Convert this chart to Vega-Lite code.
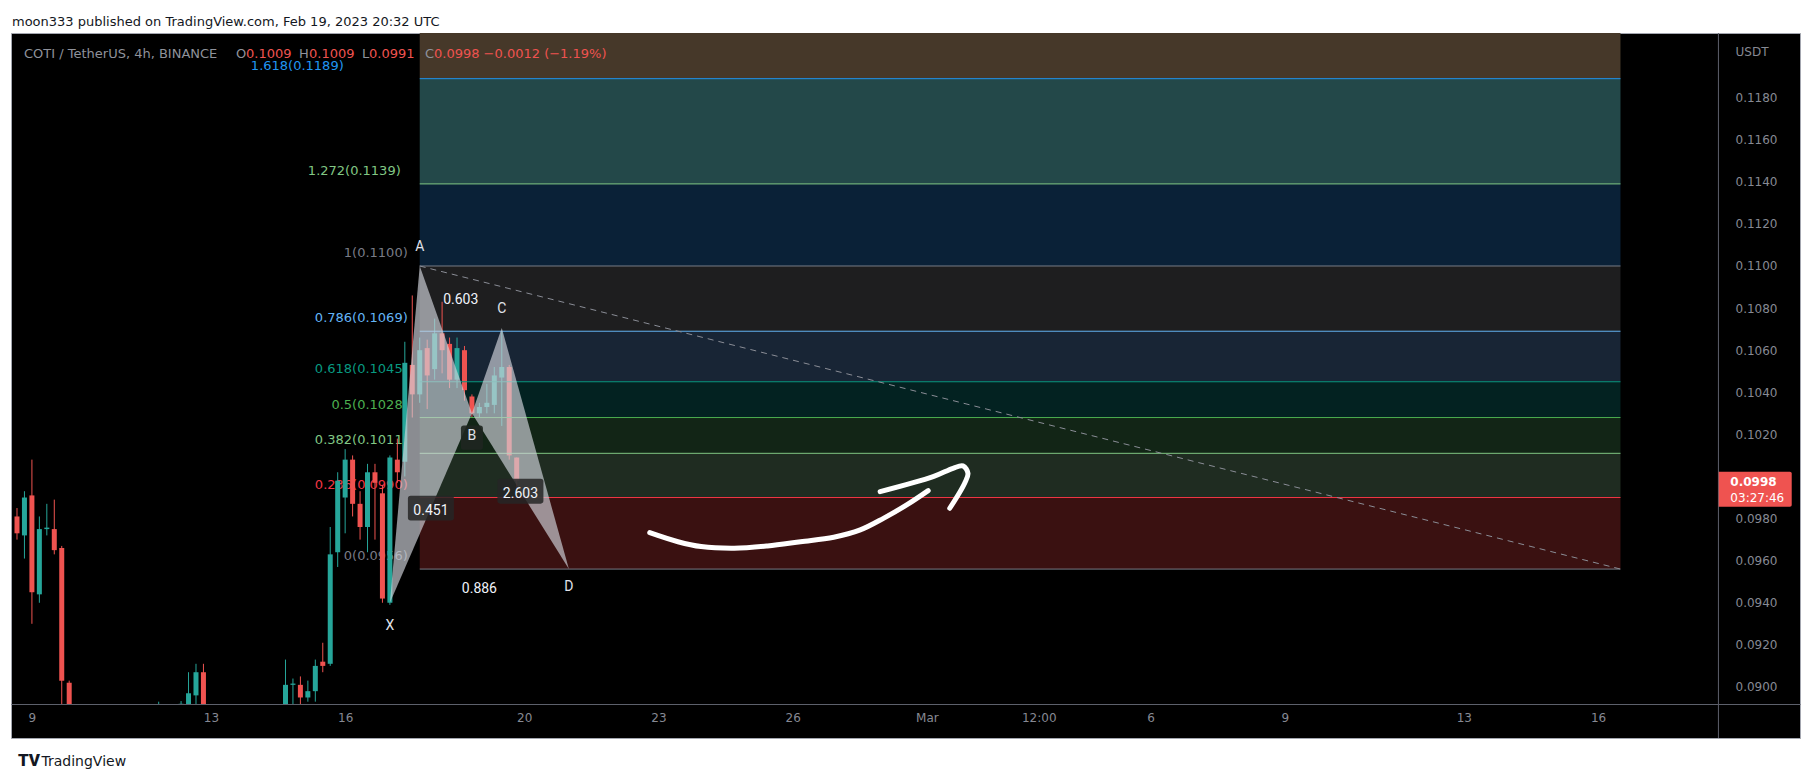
{
  "$schema": "https://vega.github.io/schema/vega-lite/v6.json",
  "width": 1789,
  "height": 705,
  "autosize": {"type": "none"},
  "padding": {"left": 11, "top": 33, "right": 13, "bottom": 45},
  "background": "#ffffff",
  "title": {"text": "moon333 published on TradingView.com, Feb 19, 2023 20:32 UTC", "anchor": "start", "frame": "group", "offset": 4, "fontSize": 13, "fontWeight": "normal", "font": "DejaVu Sans", "color": "#131722", "dx": 1},
  "config": {"view": {"fill": "#000000", "stroke": "#a3a6af", "strokeWidth": 1}, "font": "DejaVu Sans"},
  "datasets": {
    "candles": [
      {"t": "2023-02-08T16:00Z", "o": 0.0981, "h": 0.0985, "l": 0.0970, "c": 0.0973},
      {"t": "2023-02-08T20:00Z", "o": 0.0972, "h": 0.0993, "l": 0.0961, "c": 0.0990},
      {"t": "2023-02-09T00:00Z", "o": 0.0991, "h": 0.1008, "l": 0.0930, "c": 0.0945},
      {"t": "2023-02-09T04:00Z", "o": 0.0944, "h": 0.0981, "l": 0.0940, "c": 0.0975},
      {"t": "2023-02-09T08:00Z", "o": 0.0975, "h": 0.0987, "l": 0.0972, "c": 0.09757},
      {"t": "2023-02-09T12:00Z", "o": 0.0975, "h": 0.0989, "l": 0.0963, "c": 0.0965},
      {"t": "2023-02-09T16:00Z", "o": 0.0966, "h": 0.0967, "l": 0.0880, "c": 0.0903},
      {"t": "2023-02-09T20:00Z", "o": 0.0902, "h": 0.0903, "l": 0.0860, "c": 0.0870},
      {"t": "2023-02-11T20:00Z", "o": 0.0880, "h": 0.0893, "l": 0.0875, "c": 0.0885},
      {"t": "2023-02-12T08:00Z", "o": 0.0885, "h": 0.08933, "l": 0.0880, "c": 0.0892},
      {"t": "2023-02-12T12:00Z", "o": 0.0886, "h": 0.0907, "l": 0.0880, "c": 0.0897},
      {"t": "2023-02-12T16:00Z", "o": 0.0896, "h": 0.0911, "l": 0.0888, "c": 0.0907},
      {"t": "2023-02-12T20:00Z", "o": 0.0907, "h": 0.0911, "l": 0.0878, "c": 0.0885},
      {"t": "2023-02-14T16:00Z", "o": 0.0887, "h": 0.0913, "l": 0.0880, "c": 0.0901},
      {"t": "2023-02-14T20:00Z", "o": 0.0901, "h": 0.0904, "l": 0.0890, "c": 0.09016},
      {"t": "2023-02-15T00:00Z", "o": 0.0901, "h": 0.0905, "l": 0.0890, "c": 0.0895},
      {"t": "2023-02-15T04:00Z", "o": 0.0895, "h": 0.0903, "l": 0.0893, "c": 0.0898},
      {"t": "2023-02-15T08:00Z", "o": 0.0898, "h": 0.0913, "l": 0.0893, "c": 0.0910},
      {"t": "2023-02-15T12:00Z", "o": 0.0912, "h": 0.0921, "l": 0.0907, "c": 0.0910},
      {"t": "2023-02-15T16:00Z", "o": 0.0911, "h": 0.0976, "l": 0.0910, "c": 0.0963},
      {"t": "2023-02-15T20:00Z", "o": 0.0964, "h": 0.1002, "l": 0.0957, "c": 0.0998},
      {"t": "2023-02-16T00:00Z", "o": 0.0990, "h": 0.1013, "l": 0.0973, "c": 0.1008},
      {"t": "2023-02-16T04:00Z", "o": 0.1008, "h": 0.1010, "l": 0.0981, "c": 0.0987},
      {"t": "2023-02-16T08:00Z", "o": 0.0987, "h": 0.0993, "l": 0.0970, "c": 0.0976},
      {"t": "2023-02-16T12:00Z", "o": 0.0976, "h": 0.1006, "l": 0.0964, "c": 0.1002},
      {"t": "2023-02-16T16:00Z", "o": 0.1002, "h": 0.1006, "l": 0.0970, "c": 0.0997},
      {"t": "2023-02-16T20:00Z", "o": 0.0992, "h": 0.0996, "l": 0.0940, "c": 0.0942},
      {"t": "2023-02-17T00:00Z", "o": 0.0940, "h": 0.1010, "l": 0.0939, "c": 0.1009},
      {"t": "2023-02-17T04:00Z", "o": 0.1008, "h": 0.1018, "l": 0.0997, "c": 0.1002},
      {"t": "2023-02-17T08:00Z", "o": 0.1007, "h": 0.1064, "l": 0.1000, "c": 0.1054},
      {"t": "2023-02-17T12:00Z", "o": 0.1053, "h": 0.1086, "l": 0.1028, "c": 0.1039},
      {"t": "2023-02-17T16:00Z", "o": 0.1039, "h": 0.1066, "l": 0.1035, "c": 0.1060},
      {"t": "2023-02-17T20:00Z", "o": 0.1061, "h": 0.1065, "l": 0.1032, "c": 0.1048},
      {"t": "2023-02-18T00:00Z", "o": 0.1051, "h": 0.1075, "l": 0.1046, "c": 0.1068},
      {"t": "2023-02-18T04:00Z", "o": 0.1068, "h": 0.1083, "l": 0.1049, "c": 0.1060},
      {"t": "2023-02-18T08:00Z", "o": 0.1063, "h": 0.1066, "l": 0.1042, "c": 0.1046},
      {"t": "2023-02-18T12:00Z", "o": 0.1046, "h": 0.1066, "l": 0.1042, "c": 0.1061},
      {"t": "2023-02-18T16:00Z", "o": 0.1060, "h": 0.1062, "l": 0.1036, "c": 0.1041},
      {"t": "2023-02-18T20:00Z", "o": 0.1038, "h": 0.1039, "l": 0.1028, "c": 0.1030},
      {"t": "2023-02-19T00:00Z", "o": 0.1030, "h": 0.1035, "l": 0.1028, "c": 0.1033},
      {"t": "2023-02-19T04:00Z", "o": 0.1033, "h": 0.1044, "l": 0.1030, "c": 0.1035},
      {"t": "2023-02-19T08:00Z", "o": 0.1034, "h": 0.1052, "l": 0.1030, "c": 0.1048},
      {"t": "2023-02-19T12:00Z", "o": 0.1047, "h": 0.1069, "l": 0.1024, "c": 0.1052},
      {"t": "2023-02-19T16:00Z", "o": 0.1052, "h": 0.1053, "l": 0.1008, "c": 0.1010},
      {"t": "2023-02-19T20:00Z", "o": 0.1009, "h": 0.1009, "l": 0.0991, "c": 0.0998}
    ],
    "fib": [
      {"level": "0", "price": 0.0956, "next": 0.0990, "label": "0(0.0956)", "from": "2023-02-17T16:00Z", "to": "2023-03-16T12:00Z"},
      {"level": "0.236", "price": 0.0990, "next": 0.1011, "label": "0.236(0.0990)", "from": "2023-02-17T16:00Z", "to": "2023-03-16T12:00Z"},
      {"level": "0.382", "price": 0.1011, "next": 0.1028, "label": "0.382(0.1011)", "from": "2023-02-17T16:00Z", "to": "2023-03-16T12:00Z"},
      {"level": "0.5", "price": 0.1028, "next": 0.1045, "label": "0.5(0.1028)", "from": "2023-02-17T16:00Z", "to": "2023-03-16T12:00Z"},
      {"level": "0.618", "price": 0.1045, "next": 0.1069, "label": "0.618(0.1045)", "from": "2023-02-17T16:00Z", "to": "2023-03-16T12:00Z"},
      {"level": "0.786", "price": 0.1069, "next": 0.1100, "label": "0.786(0.1069)", "from": "2023-02-17T16:00Z", "to": "2023-03-16T12:00Z"},
      {"level": "1", "price": 0.1100, "next": 0.1139, "label": "1(0.1100)", "from": "2023-02-17T16:00Z", "to": "2023-03-16T12:00Z"},
      {"level": "1.272", "price": 0.1139, "next": 0.1189, "label": "1.272(0.1139)", "from": "2023-02-17T16:00Z", "to": "2023-03-16T12:00Z"},
      {"level": "1.618", "price": 0.1189, "next": 0.1333, "label": "1.618(0.1189)", "from": "2023-02-17T16:00Z", "to": "2023-03-16T12:00Z"}
    ],
    "trend": [
      {"t": "2023-02-17T16:00Z", "p": 0.1100},
      {"t": "2023-03-16T12:00Z", "p": 0.0956}
    ],
    "tri": [
      {"shape": "XAB", "t": "2023-02-17T00:00Z", "top": 0.0940, "bottom": 0.0940},
      {"shape": "XAB", "t": "2023-02-17T16:00Z", "top": 0.1100, "bottom": 0.09727},
      {"shape": "XAB", "t": "2023-02-18T20:00Z", "top": 0.1030, "bottom": 0.1030},
      {"shape": "BCD", "t": "2023-02-18T20:00Z", "top": 0.1030, "bottom": 0.1030},
      {"shape": "BCD", "t": "2023-02-19T12:00Z", "top": 0.10705, "bottom": 0.10072},
      {"shape": "BCD", "t": "2023-02-21T00:00Z", "top": 0.0956, "bottom": 0.0956}
    ],
    "pts": [
      {"name": "X", "t": "2023-02-17T00:00Z", "p": 0.0940},
      {"name": "A", "t": "2023-02-17T16:00Z", "p": 0.1100},
      {"name": "B", "t": "2023-02-18T20:00Z", "p": 0.1030},
      {"name": "C", "t": "2023-02-19T12:00Z", "p": 0.10705},
      {"name": "D", "t": "2023-02-21T00:00Z", "p": 0.0956}
    ],
    "ratios": [
      {"label": "0.603", "t": "2023-02-18T14:00Z", "p": 0.108525},
      {"label": "0.451", "t": "2023-02-17T22:00Z", "p": 0.0985},
      {"label": "2.603", "t": "2023-02-19T22:00Z", "p": 0.0993},
      {"label": "0.886", "t": "2023-02-19T00:00Z", "p": 0.0948}
    ],
    "arrow": [
      {"part": "curve", "i": 1, "t": "2023-02-22T19:22Z", "p": 0.09733},
      {"part": "curve", "i": 2, "t": "2023-02-23T10:31Z", "p": 0.09690},
      {"part": "curve", "i": 3, "t": "2023-02-23T22:56Z", "p": 0.09667},
      {"part": "curve", "i": 4, "t": "2023-02-24T16:42Z", "p": 0.09659},
      {"part": "curve", "i": 5, "t": "2023-02-25T10:31Z", "p": 0.09670},
      {"part": "curve", "i": 6, "t": "2023-02-26T04:16Z", "p": 0.09690},
      {"part": "curve", "i": 7, "t": "2023-02-26T22:02Z", "p": 0.09711},
      {"part": "curve", "i": 8, "t": "2023-02-27T12:16Z", "p": 0.09746},
      {"part": "curve", "i": 9, "t": "2023-02-28T00:42Z", "p": 0.09801},
      {"part": "curve", "i": 10, "t": "2023-02-28T13:10Z", "p": 0.09865},
      {"part": "curve", "i": 11, "t": "2023-03-01T00:42Z", "p": 0.09933},
      {"part": "head", "i": 1, "t": "2023-02-27T22:56Z", "p": 0.09928},
      {"part": "head", "i": 2, "t": "2023-03-01T03:22Z", "p": 0.09999},
      {"part": "head", "i": 3, "t": "2023-03-01T14:01Z", "p": 0.10039},
      {"part": "head", "i": 4, "t": "2023-03-01T19:22Z", "p": 0.10050},
      {"part": "head", "i": 5, "t": "2023-03-01T22:02Z", "p": 0.10015},
      {"part": "head", "i": 6, "t": "2023-03-01T20:16Z", "p": 0.09968},
      {"part": "head", "i": 7, "t": "2023-03-01T12:16Z", "p": 0.09849}
    ]
  },
  "layer": [
    {
      "data": {"name": "fib"},
      "mark": {"type": "rect"},
      "encoding": {
        "x": {
          "field": "from", "type": "temporal",
          "scale": {"type": "utc", "nice": false, "domain": [{"year": 2023, "month": 2, "date": 8, "hours": 15, "minutes": 28, "utc": true}, {"year": 2023, "month": 3, "date": 20, "hours": 9, "minutes": 36, "utc": true}]},
          "axis": {
            "orient": "bottom", "offset": -34,
            "values": [
              {"year": 2023, "month": 2, "date": 9, "utc": true},
              {"year": 2023, "month": 2, "date": 13, "utc": true},
              {"year": 2023, "month": 2, "date": 16, "utc": true},
              {"year": 2023, "month": 2, "date": 20, "utc": true},
              {"year": 2023, "month": 2, "date": 23, "utc": true},
              {"year": 2023, "month": 2, "date": 26, "utc": true},
              {"year": 2023, "month": 3, "date": 1, "utc": true},
              {"year": 2023, "month": 3, "date": 3, "hours": 12, "utc": true},
              {"year": 2023, "month": 3, "date": 6, "utc": true},
              {"year": 2023, "month": 3, "date": 9, "utc": true},
              {"year": 2023, "month": 3, "date": 13, "utc": true},
              {"year": 2023, "month": 3, "date": 16, "utc": true}
            ],
            "labelExpr": "utchours(datum.value) == 12 ? '12:00' : (utcdate(datum.value) == 1 ? 'Mar' : '' + utcdate(datum.value))",
            "ticks": false, "tickSize": 0, "labelPadding": 8, "labelBaseline": "top",
            "labelFontSize": 12, "labelColor": "#868993", "labelFont": "DejaVu Sans",
            "labelFlush": false, "labelOverlap": false, "labelAngle": 0,
            "domainColor": "#5d606b", "domainWidth": 1, "grid": false,
            "title": "TradingView", "titleX": 30, "titleY": 57, "titleAlign": "left", "titleBaseline": "middle",
            "titleFontSize": 14, "titleFontWeight": "normal", "titleColor": "#131722", "titleFont": "DejaVu Sans"
          }
        },
        "x2": {"field": "to"},
        "y": {
          "field": "price", "type": "quantitative",
          "scale": {"domain": [0.08919, 0.12107], "range": [671, 0], "zero": false, "nice": false, "clamp": true},
          "axis": {
            "orient": "right", "offset": -77,
            "values": [0.09, 0.092, 0.094, 0.096, 0.098, 0.102, 0.104, 0.106, 0.108, 0.11, 0.112, 0.114, 0.116, 0.118],
            "format": ".4f", "ticks": false, "tickSize": 0, "labelPadding": 12,
            "labelFontSize": 12, "labelColor": "#868993", "labelFont": "DejaVu Sans", "labelBaseline": "middle",
            "labelFlush": false, "labelOverlap": false, "domain": false, "grid": false,
            "title": "USDT", "titleAngle": 0, "titleX": 12, "titleY": 18, "titleAlign": "left", "titleBaseline": "middle",
            "titleFontSize": 12, "titleFontWeight": "normal", "titleColor": "#868993", "titleFont": "DejaVu Sans"
          }
        },
        "y2": {"field": "next"},
        "fill": {
          "field": "level", "type": "nominal", "legend": null,
          "scale": {"domain": ["0", "0.236", "0.382", "0.5", "0.618", "0.786", "1", "1.272", "1.618"],
                    "range": ["#3a1111", "#1f2c21", "#122516", "#032221", "#182535", "#1e1e1f", "#0a2137", "#234849", "#463829"]}
        }
      }
    },
    {
      "data": {"name": "fib"},
      "transform": [{"filter": "datum.level != '1.272' && datum.level != '1.618'"}],
      "mark": {"type": "text", "align": "right", "baseline": "middle", "dx": -12, "dy": -13, "fontSize": 13, "font": "DejaVu Sans"},
      "encoding": {
        "x": {"field": "from", "type": "temporal"},
        "y": {"field": "price", "type": "quantitative"},
        "text": {"field": "label"},
        "color": {
          "field": "level", "type": "nominal", "legend": null,
          "scale": {"domain": ["0", "0.236", "0.382", "0.5", "0.618", "0.786", "1", "1.272", "1.618"],
                    "range": ["#787b86", "#f23645", "#81c784", "#4caf50", "#089981", "#64b5f6", "#787b86", "#81c784", "#2196f3"]}
        }
      }
    },
    {
      "data": {"name": "fib"},
      "transform": [{"filter": "datum.level == '1.272'"}],
      "mark": {"type": "text", "align": "right", "baseline": "middle", "dx": -19, "dy": -13, "fontSize": 13, "font": "DejaVu Sans"},
      "encoding": {
        "x": {"field": "from", "type": "temporal"},
        "y": {"field": "price", "type": "quantitative"},
        "text": {"field": "label"},
        "color": {"field": "level", "type": "nominal", "legend": null}
      }
    },
    {
      "data": {"name": "fib"},
      "transform": [{"filter": "datum.level == '1.618'"}],
      "mark": {"type": "text", "align": "right", "baseline": "middle", "dx": -76, "dy": -13, "fontSize": 13, "font": "DejaVu Sans"},
      "encoding": {
        "x": {"field": "from", "type": "temporal"},
        "y": {"field": "price", "type": "quantitative"},
        "text": {"field": "label"},
        "color": {"field": "level", "type": "nominal", "legend": null}
      }
    },
    {
      "data": {"name": "candles"},
      "mark": {"type": "rule", "clip": true, "strokeWidth": 1},
      "encoding": {
        "x": {"field": "t", "type": "temporal"},
        "y": {"field": "l", "type": "quantitative"},
        "y2": {"field": "h"},
        "color": {"condition": {"test": "datum.c >= datum.o", "value": "#26a69a"}, "value": "#ef5350"}
      }
    },
    {
      "data": {"name": "candles"},
      "mark": {"type": "bar", "clip": true, "size": 5, "orient": "vertical"},
      "encoding": {
        "x": {"field": "t", "type": "temporal"},
        "y": {"field": "o", "type": "quantitative"},
        "y2": {"field": "c"},
        "color": {"condition": {"test": "datum.c >= datum.o", "value": "#26a69a"}, "value": "#ef5350"}
      }
    },
    {
      "data": {"name": "fib"},
      "mark": {"type": "rule", "strokeWidth": 1},
      "encoding": {
        "x": {"field": "from", "type": "temporal"},
        "x2": {"field": "to"},
        "y": {"field": "price", "type": "quantitative"},
        "color": {"field": "level", "type": "nominal", "legend": null}
      }
    },
    {
      "data": {"name": "trend"},
      "mark": {"type": "line", "color": "#8a8d96", "strokeWidth": 1, "strokeDash": [6, 5]},
      "encoding": {
        "x": {"field": "t", "type": "temporal"},
        "y": {"field": "p", "type": "quantitative"}
      }
    },
    {
      "data": {"name": "tri"},
      "mark": {"type": "area", "color": "#d1d4dc", "opacity": 0.66},
      "encoding": {
        "x": {"field": "t", "type": "temporal"},
        "y": {"field": "top", "type": "quantitative"},
        "y2": {"field": "bottom"},
        "detail": {"field": "shape"}
      }
    },
    {
      "data": {"name": "ratios"},
      "transform": [{"filter": "datum.label == '0.451' || datum.label == '2.603'"}],
      "mark": {"type": "point", "filled": true, "fill": "#262626", "opacity": 0.85, "strokeWidth": 0, "size": 2116,
               "shape": "M-0.88,-0.54 L0.88,-0.54 Q1,-0.54 1,-0.42 L1,0.42 Q1,0.54 0.88,0.54 L-0.88,0.54 Q-1,0.54 -1,0.42 L-1,-0.42 Q-1,-0.54 -0.88,-0.54 Z"},
      "encoding": {
        "x": {"field": "t", "type": "temporal"},
        "y": {"field": "p", "type": "quantitative"}
      }
    },
    {
      "data": {"name": "ratios"},
      "mark": {"type": "text", "align": "center", "baseline": "middle", "dy": 3, "fontSize": 14, "font": "Roboto", "color": "#f0f3fa"},
      "encoding": {
        "x": {"field": "t", "type": "temporal"},
        "y": {"field": "p", "type": "quantitative"},
        "text": {"field": "label"}
      }
    },
    {
      "data": {"name": "pts"},
      "transform": [{"filter": "datum.name == 'B'"}],
      "mark": {"type": "point", "filled": true, "fill": "#1f2620", "opacity": 0.9, "strokeWidth": 0, "size": 484,
               "shape": "M-0.75,1.1 L0.75,1.1 Q1,1.1 1,1.35 L1,3.05 Q1,3.3 0.75,3.3 L-0.75,3.3 Q-1,3.3 -1,3.05 L-1,1.35 Q-1,1.1 -0.75,1.1 Z"},
      "encoding": {
        "x": {"field": "t", "type": "temporal"},
        "y": {"field": "p", "type": "quantitative"}
      }
    },
    {
      "data": {"name": "pts"},
      "transform": [{"filter": "datum.name == 'A' || datum.name == 'C'"}],
      "mark": {"type": "text", "align": "center", "baseline": "middle", "dy": -19, "fontSize": 14, "font": "Roboto", "color": "#e0e3eb"},
      "encoding": {
        "x": {"field": "t", "type": "temporal"},
        "y": {"field": "p", "type": "quantitative"},
        "text": {"field": "name"}
      }
    },
    {
      "data": {"name": "pts"},
      "transform": [{"filter": "datum.name == 'X' || datum.name == 'B'"}],
      "mark": {"type": "text", "align": "center", "baseline": "middle", "dy": 23, "fontSize": 14, "font": "Roboto", "color": "#e0e3eb"},
      "encoding": {
        "x": {"field": "t", "type": "temporal"},
        "y": {"field": "p", "type": "quantitative"},
        "text": {"field": "name"}
      }
    },
    {
      "data": {"name": "pts"},
      "transform": [{"filter": "datum.name == 'D'"}],
      "mark": {"type": "text", "align": "center", "baseline": "middle", "dy": 18, "fontSize": 14, "font": "Roboto", "color": "#e0e3eb"},
      "encoding": {
        "x": {"field": "t", "type": "temporal"},
        "y": {"field": "p", "type": "quantitative"},
        "text": {"field": "name"}
      }
    },
    {
      "data": {"name": "arrow"},
      "mark": {"type": "line", "color": "#ffffff", "strokeWidth": 5, "strokeCap": "round", "strokeJoin": "round", "interpolate": "catmull-rom"},
      "encoding": {
        "x": {"field": "t", "type": "temporal"},
        "y": {"field": "p", "type": "quantitative"},
        "detail": {"field": "part"},
        "order": {"field": "i", "type": "quantitative"}
      }
    },
    {
      "data": {"values": [{}]},
      "mark": {"type": "rule", "color": "#5d606b", "strokeWidth": 1},
      "encoding": {
        "x": {"datum": {"year": 2023, "month": 3, "date": 18, "hours": 16, "minutes": 32, "utc": true}, "type": "temporal"}
      }
    },
    {
      "data": {"values": [{}]},
      "mark": {"type": "point", "filled": true, "fill": "#ef5350", "opacity": 1, "strokeWidth": 0, "size": 5329,
               "shape": "M-1,-0.247 L0.95,-0.247 Q1,-0.247 1,-0.2 L1,0.665 Q1,0.712 0.95,0.712 L-1,0.712 Z"},
      "encoding": {
        "x": {"datum": {"year": 2023, "month": 3, "date": 19, "hours": 12, "minutes": 16, "utc": true}, "type": "temporal"},
        "y": {"datum": 0.0998, "type": "quantitative"}
      }
    },
    {
      "data": {"values": [{}]},
      "mark": {"type": "text", "text": "0.0998", "align": "left", "baseline": "middle", "dy": 1, "fontSize": 12, "fontWeight": "bold", "font": "DejaVu Sans", "color": "#ffffff"},
      "encoding": {
        "x": {"datum": {"year": 2023, "month": 3, "date": 18, "hours": 22, "minutes": 56, "utc": true}, "type": "temporal"},
        "y": {"datum": 0.0998, "type": "quantitative"}
      }
    },
    {
      "data": {"values": [{}]},
      "mark": {"type": "text", "text": "03:27:46", "align": "left", "baseline": "middle", "dy": 17, "fontSize": 12, "font": "DejaVu Sans", "color": "#ffffff"},
      "encoding": {
        "x": {"datum": {"year": 2023, "month": 3, "date": 18, "hours": 22, "minutes": 56, "utc": true}, "type": "temporal"},
        "y": {"datum": 0.0998, "type": "quantitative"}
      }
    },
    {
      "data": {"values": [{}]},
      "mark": {"type": "text", "text": "COTI / TetherUS, 4h, BINANCE", "align": "left", "baseline": "middle", "dx": 8, "dy": 21, "fontSize": 13, "font": "DejaVu Sans", "color": "#8f929b"},
      "encoding": {
        "x": {"datum": {"year": 2023, "month": 2, "date": 8, "hours": 15, "minutes": 28, "utc": true}, "type": "temporal"},
        "y": {"datum": 0.12107, "type": "quantitative"}
      }
    },
    {
      "data": {"values": [{}]},
      "mark": {"type": "text", "text": "O", "align": "left", "baseline": "middle", "dx": 220, "dy": 21, "fontSize": 13, "font": "DejaVu Sans", "color": "#8f929b"},
      "encoding": {
        "x": {"datum": {"year": 2023, "month": 2, "date": 8, "hours": 15, "minutes": 28, "utc": true}, "type": "temporal"},
        "y": {"datum": 0.12107, "type": "quantitative"}
      }
    },
    {
      "data": {"values": [{}]},
      "mark": {"type": "text", "text": "0.1009", "align": "left", "baseline": "middle", "dx": 230, "dy": 21, "fontSize": 13, "font": "DejaVu Sans", "color": "#ef5350"},
      "encoding": {
        "x": {"datum": {"year": 2023, "month": 2, "date": 8, "hours": 15, "minutes": 28, "utc": true}, "type": "temporal"},
        "y": {"datum": 0.12107, "type": "quantitative"}
      }
    },
    {
      "data": {"values": [{}]},
      "mark": {"type": "text", "text": "H", "align": "left", "baseline": "middle", "dx": 283, "dy": 21, "fontSize": 13, "font": "DejaVu Sans", "color": "#8f929b"},
      "encoding": {
        "x": {"datum": {"year": 2023, "month": 2, "date": 8, "hours": 15, "minutes": 28, "utc": true}, "type": "temporal"},
        "y": {"datum": 0.12107, "type": "quantitative"}
      }
    },
    {
      "data": {"values": [{}]},
      "mark": {"type": "text", "text": "0.1009", "align": "left", "baseline": "middle", "dx": 293, "dy": 21, "fontSize": 13, "font": "DejaVu Sans", "color": "#ef5350"},
      "encoding": {
        "x": {"datum": {"year": 2023, "month": 2, "date": 8, "hours": 15, "minutes": 28, "utc": true}, "type": "temporal"},
        "y": {"datum": 0.12107, "type": "quantitative"}
      }
    },
    {
      "data": {"values": [{}]},
      "mark": {"type": "text", "text": "L", "align": "left", "baseline": "middle", "dx": 346, "dy": 21, "fontSize": 13, "font": "DejaVu Sans", "color": "#8f929b"},
      "encoding": {
        "x": {"datum": {"year": 2023, "month": 2, "date": 8, "hours": 15, "minutes": 28, "utc": true}, "type": "temporal"},
        "y": {"datum": 0.12107, "type": "quantitative"}
      }
    },
    {
      "data": {"values": [{}]},
      "mark": {"type": "text", "text": "0.0991", "align": "left", "baseline": "middle", "dx": 353, "dy": 21, "fontSize": 13, "font": "DejaVu Sans", "color": "#ef5350"},
      "encoding": {
        "x": {"datum": {"year": 2023, "month": 2, "date": 8, "hours": 15, "minutes": 28, "utc": true}, "type": "temporal"},
        "y": {"datum": 0.12107, "type": "quantitative"}
      }
    },
    {
      "data": {"values": [{}]},
      "mark": {"type": "text", "text": "C", "align": "left", "baseline": "middle", "dx": 409, "dy": 21, "fontSize": 13, "font": "DejaVu Sans", "color": "#8f929b"},
      "encoding": {
        "x": {"datum": {"year": 2023, "month": 2, "date": 8, "hours": 15, "minutes": 28, "utc": true}, "type": "temporal"},
        "y": {"datum": 0.12107, "type": "quantitative"}
      }
    },
    {
      "data": {"values": [{}]},
      "mark": {"type": "text", "text": "0.0998 −0.0012 (−1.19%)", "align": "left", "baseline": "middle", "dx": 418, "dy": 21, "fontSize": 13, "font": "DejaVu Sans", "color": "#ef5350"},
      "encoding": {
        "x": {"datum": {"year": 2023, "month": 2, "date": 8, "hours": 15, "minutes": 28, "utc": true}, "type": "temporal"},
        "y": {"datum": 0.12107, "type": "quantitative"}
      }
    },
    {
      "data": {"values": [{}]},
      "mark": {"type": "text", "text": "TV", "align": "left", "baseline": "middle", "dx": 2, "dy": 57, "fontSize": 17, "fontWeight": 900, "font": "Roboto", "color": "#131722"},
      "encoding": {
        "x": {"datum": {"year": 2023, "month": 2, "date": 8, "hours": 15, "minutes": 28, "utc": true}, "type": "temporal"},
        "y": {"datum": 0.08919, "type": "quantitative"}
      }
    }
  ]
}
